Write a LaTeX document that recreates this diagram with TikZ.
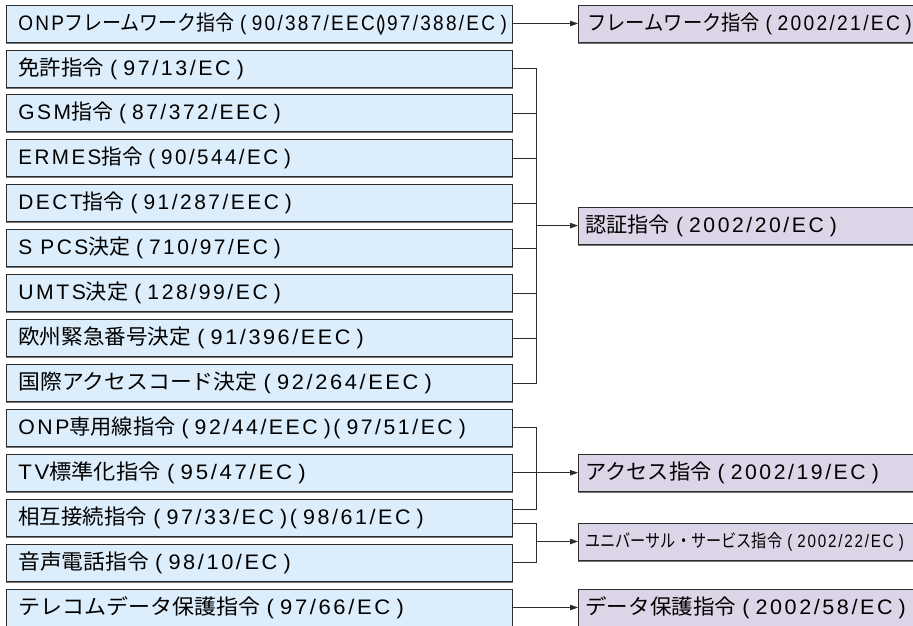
\documentclass[tikz,border=0pt]{standalone}
\usepackage{fontspec}
\setmainfont{Liberation Sans}[LetterSpace=12]
\newfontfamily\jp{Noto Sans CJK JP}
\usetikzlibrary{arrows.meta,calc}
\definecolor{lfill}{RGB}{220,237,251}
\definecolor{rfill}{RGB}{220,213,231}
\definecolor{edge}{RGB}{45,45,45}
\newcommand\J[1]{{\jp #1}}
\newcommand\LP{\kern6pt(\kern6pt\relax}
\newcommand\RP{\kern6pt)}
\newcommand\PC{\kern6pt)(\kern6pt\relax}
\newcommand\PX{\kern5pt)\kern-10.5pt(\kern5pt\relax}
\newcommand\fitw[2]{\resizebox{#1}{\height}{#2}}
\begin{document}
\begin{tikzpicture}[x=1pt,y=-1pt,font=\fontsize{21}{24}\selectfont,
  boxshadow/.style={preaction={draw=black!55,line width=1.2pt,transform canvas={yshift=-1pt}}},
  lbox/.style={boxshadow,draw=edge,line width=0.8pt,fill=lfill,anchor=west,minimum height=37pt,
    text width=482pt,inner xsep=12pt,inner ysep=0pt,align=left},
  rbox/.style={boxshadow,draw=edge,line width=0.8pt,fill=rfill,anchor=west,minimum height=37pt,
    text width=331pt,inner xsep=7pt,inner ysep=0pt,align=left},
  link/.style={draw=edge,line width=0.8pt},
  arr/.style={link,-{Triangle[length=8pt,width=5.5pt]}}]
\useasboundingbox (0,0) rectangle (913,625);
\clip (0,0) rectangle (913,625);
\fill[white] (0,0) rectangle (913,625);
% left boxes
\node[lbox] (b1) at (6,23.5) {\fitw{488.5pt}{ONP\J{フレームワーク指令}\LP 90/387/EEC\PX 97/388/EC\RP}};
\node[lbox] (b2) at (6,68.4) {\fitw{225.5pt}{\J{免許指令}\LP 97/13/EC\RP}};
\node[lbox] (b3) at (6,113.3) {\fitw{262.5pt}{GSM\J{指令}\LP 87/372/EEC\RP}};
\node[lbox] (b4) at (6,158.3) {\fitw{272.5pt}{ERMES\J{指令}\LP 90/544/EC\RP}};
\node[lbox] (b5) at (6,203.2) {\fitw{273.5pt}{DECT\J{指令}\LP 91/287/EEC\RP}};
\node[lbox] (b6) at (6,248.1) {\fitw{262.5pt}{S\kern8pt\relax PCS\J{決定}\LP 710/97/EC\RP}};
\node[lbox] (b7) at (6,293.0) {\fitw{262.5pt}{UMTS\J{決定}\LP 128/99/EC\RP}};
\node[lbox] (b8) at (6,337.9) {\fitw{345.5pt}{\J{欧州緊急番号決定}\LP 91/396/EEC\RP}};
\node[lbox] (b9) at (6,382.9) {\fitw{413.5pt}{\J{国際アクセスコード決定}\LP 92/264/EEC\RP}};
\node[lbox] (b10) at (6,427.8) {\fitw{447.5pt}{ONP\J{専用線指令}\LP 92/44/EEC\PC 97/51/EC\RP}};
\node[lbox] (b11) at (6,472.7) {\fitw{287.5pt}{TV\J{標準化指令}\LP 95/47/EC\RP}};
\node[lbox] (b12) at (6,517.6) {\fitw{405.5pt}{\J{相互接続指令}\LP 97/33/EC\PC 98/61/EC\RP}};
\node[lbox] (b13) at (6,562.5) {\fitw{272.5pt}{\J{音声電話指令}\LP 98/10/EC\RP}};
\node[lbox] (b14) at (6,607.5) {\fitw{385.5pt}{\J{テレコムデータ保護指令}\LP 97/66/EC\RP}};
% right boxes
\node[rbox] (r1) at (578,23.5) {\hspace*{2pt}\fitw{324.5pt}{\J{フレームワーク指令}\LP 2002/21/EC\RP}};
\node[rbox] (r2) at (578,225.6) {\fitw{251.5pt}{\J{認証指令}\LP 2002/20/EC\RP}};
\node[rbox] (r3) at (578,472.7) {\fitw{293.5pt}{\J{アクセス指令}\LP 2002/19/EC\RP}};
\node[rbox] (r4) at (578,541.5) {\fitw{318.5pt}{\fontsize{18}{20}\selectfont\J{ユニバーサル・サービス指令}\LP 2002/22/EC\RP}};
\node[rbox] (r5) at (578,607.5) {\fitw{320.5pt}{\J{データ保護指令}\LP 2002/58/EC\RP}};
% junction points
\coordinate (j2) at (536,225.6);
\coordinate (j4) at (536,541.5);
% connectors
\draw[arr] (b1.east) -- (r1.west);
\draw[link] (b2.east) -- ++(24,0) |- (b9.east);
\foreach \b in {b3,b4,b5,b6,b7,b8} \draw[link] (\b.east) -- ++(24,0);
\draw[arr] (j2) -- (r2.west);
\draw[link] (b10.east) -- ++(24,0) |- ([yshift=8.6pt]b12.east);
\draw[arr] (b11.east) -- (r3.west);
\draw[link] ([yshift=-5.4pt]b12.east) -- ++(24,0) |- (b13.east);
\draw[arr] (j4) -- (r4.west);
\draw[arr] (b14.east) -- (r5.west);
\end{tikzpicture}
\end{document}
